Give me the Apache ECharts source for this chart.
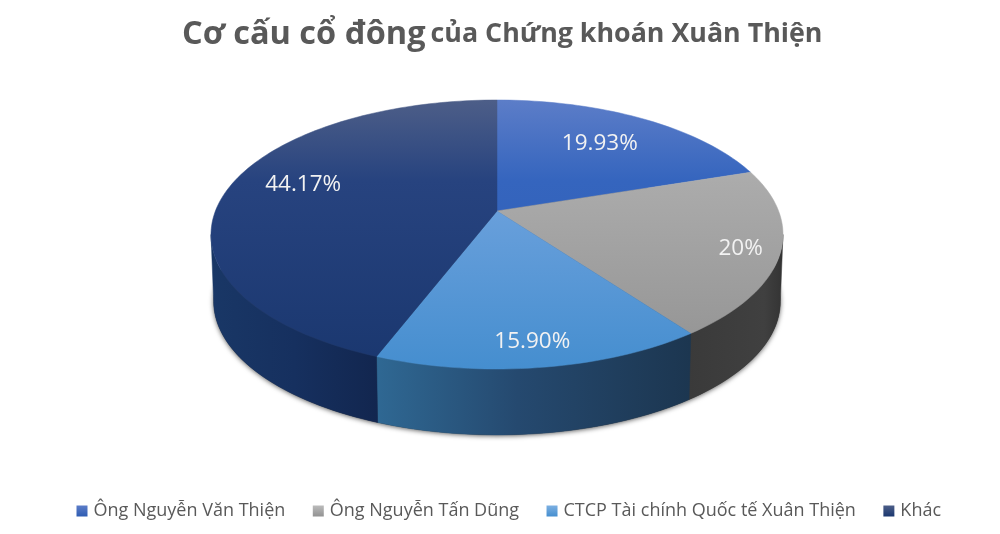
<!DOCTYPE html>
<html><head><meta charset="utf-8">
<style>html,body{margin:0;padding:0;background:#fff}#c{width:1000px;height:534px}</style>
<script src="https://cdn.jsdelivr.net/npm/echarts@6/dist/echarts.min.js"></script>
</head><body><div id="c"></div>
<script>
const categories = ['Ông Nguyễn Văn Thiện','Ông Nguyễn Tấn Dũng','CTCP Tài chính Quốc tế Xuân Thiện','Khác'];
const shares = [19.93, 20, 15.90, 44.17];
const shareLabels = ['19.93%','20%','15.90%','44.17%'];

const topStops = [
  [[0,'#5C7DC8'],[0.3,'#3565BE'],[1,'#2E5CB2']],
  [[0,'#BBBBBB'],[0.3,'#ABABAB'],[1,'#929292']],
  [[0,'#7DB0E2'],[0.42,'#689FDB'],[1,'#458ECF']],
  [[0,'#4D5E88'],[0.3,'#27437F'],[1,'#1A376F']]
];
const wallStops = [
  [[0,'#2A4F96'],[1,'#2A4F96']],
  [[0,'#3A3A3A'],[0.8,'#404040'],[1,'#333333']],
  [[0,'#2F6893'],[0.45,'#25496F'],[1,'#1C3650']],
  [[0,'#193766'],[0.5,'#16305F'],[1,'#12264F']]
];
const legendColors = ['#3A68C0','#A3A3A3','#5B9BDB','#233F7B'];
const labelRadius = [0.72,0.87,0.85,0.75];
const labelNudge = [[-5,2],[-1,1],[-2,2],[9,-9]];

const K = 0.1747, TOP = {x:497,y:211,a:281.6,b:130.4}, BOT = {x:497,y:278,a:279,b:129.5};
function proj(p, deg, r){
  const t = deg*Math.PI/180, u = r*Math.sin(t), v = r*Math.cos(t), w = 1+K*v;
  return [p.x + p.a*u/w, p.y - p.b*v/w];
}
function arc(p, a, b){
  const n = Math.max(2, Math.ceil(Math.abs(b-a)/1.5)), out = [];
  for(let i=0;i<=n;i++) out.push(proj(p, a+(b-a)*i/n, 1));
  return out;
}
const WALL_LO = Math.acos(-K)*180/Math.PI, WALL_HI = 360-WALL_LO;

let run = 0;
const seriesList = [{
  type:'custom', name:'base', coordinateSystem:'none', silent:true, data:[[0]],
  renderItem(){
    return {type:'polygon', shape:{points:arc(BOT,0,360)},
      style:{fill:'#333', shadowBlur:5, shadowColor:'rgba(0,0,0,0.65)', shadowOffsetX:0, shadowOffsetY:1}};
  }
}];
categories.forEach((name,i)=>{
  const start = run; run += shares[i];
  seriesList.push({
    type:'custom', name, coordinateSystem:'none', silent:true,
    itemStyle:{color:new echarts.graphic.LinearGradient(0,0,0,1,[{offset:0,color:topStops[i][0][1]},{offset:1,color:topStops[i][2][1]}])},
    data:[[start, shares[i]]],
    renderItem(params, api){
      const s = api.value(0)*3.6, e = s + api.value(1)*3.6, mid=(s+e)/2, children=[];
      const lo = Math.max(s,WALL_LO), hi = Math.min(e,WALL_HI);
      if(lo<hi){
        const pts = arc(TOP,lo,hi).concat(arc(BOT,hi,lo));
        const xs = pts.map(p=>p[0]), x0=Math.min(...xs), x1=Math.max(...xs);
        const st = wallStops[i].map(c=>({offset:c[0],color:c[1]}));
        const g = new echarts.graphic.LinearGradient(x0,0,x1,0,st,true);
        children.push({type:'polygon',shape:{points:pts},style:{fill:g,stroke:g,lineWidth:0.5}});
      }
      const f = new echarts.graphic.LinearGradient(0,100,0,369,topStops[i].map(c=>({offset:c[0],color:c[1]})),true);
      children.push({type:'polygon',shape:{points:[[TOP.x,TOP.y]].concat(arc(TOP,s,e))},style:{fill:f,stroke:f,lineWidth:0.5}});
      const lp = proj(TOP,mid,labelRadius[i]);
      children.push({type:'text',x:lp[0]+labelNudge[i][0],y:lp[1]+labelNudge[i][1],
        style:{text:shareLabels[i],fill:'#F2F2F2',font:'22.5px "Open Sans"',align:'center',verticalAlign:'middle'}});
      return {type:'group',children};
    }
  });
});

const chart = echarts.init(document.getElementById('c'),null,{renderer:'canvas'});
chart.setOption({
  animation:false, backgroundColor:'#fff', color:legendColors,
  title:{left:177,top:13,
    text:'{a|Cơ cấu cổ đông} {b|của Chứng khoán Xuân Thiện}',
    textStyle:{rich:{
      a:{fontFamily:'Open Sans',fontWeight:'bold',fontSize:32.5,color:'#595959'},
      b:{fontFamily:'Open Sans',fontWeight:'bold',fontSize:26.8,color:'#595959'}
    }}},
  legend:{left:71.5,top:497,data:categories,icon:'rect',itemWidth:11,itemHeight:11,itemGap:27.5,selectedMode:false,
    textStyle:{fontFamily:'Open Sans',fontSize:18,color:'#595959',padding:[0,0,0,1]}},
  series:seriesList
});
</script></body></html>
